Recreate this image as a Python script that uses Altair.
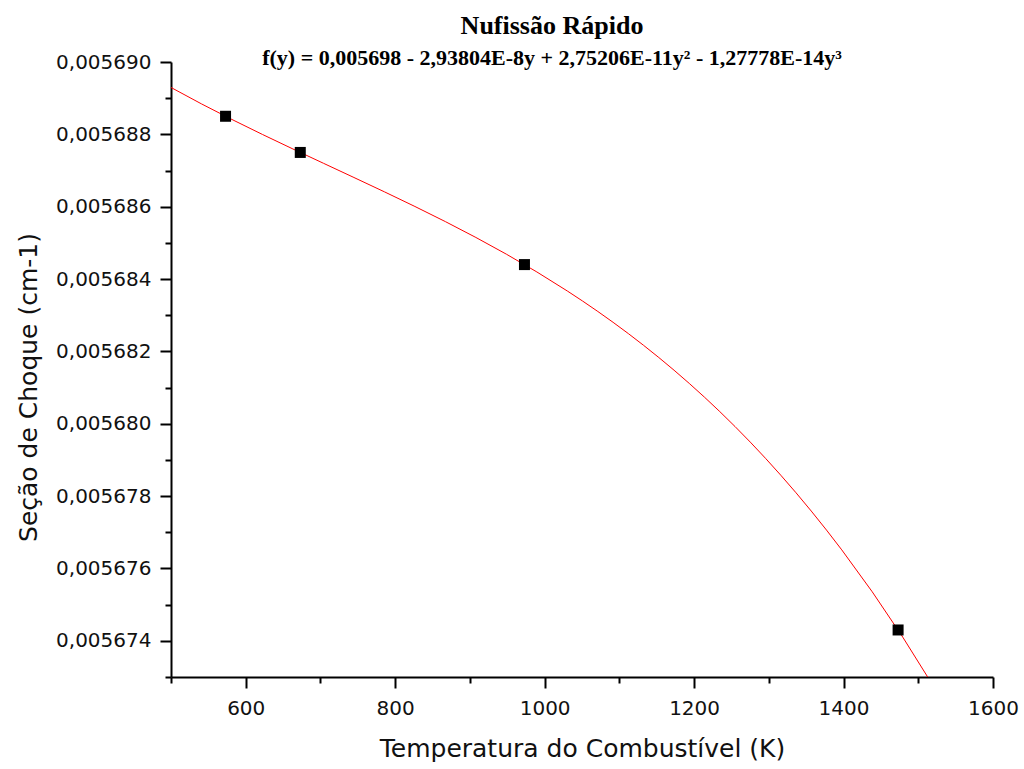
import altair as alt
import pandas as pd

# Data
temperatura = [573, 673, 973, 1473]
secao = [0.0056885, 0.0056875, 0.0056844, 0.0056743]

x_ticks = [500, 600, 700, 800, 900, 1000, 1100, 1200, 1300, 1400, 1500, 1600]
y_ticks = [0.005673, 0.005674, 0.005675, 0.005676, 0.005677, 0.005678,
           0.005679, 0.005680, 0.005681, 0.005682, 0.005683, 0.005684,
           0.005685, 0.005686, 0.005687, 0.005688, 0.005689, 0.005690]

titulo = "Nufissão Rápido"
formula = "f(y) = 0,005698 - 2,93804E-8y + 2,75206E-11y² - 1,27778E-14y³"

df = pd.DataFrame({"T": temperatura, "S": secao})

x_enc = alt.X(
    "T:Q",
    scale=alt.Scale(domain=[500, 1600], nice=False, zero=False),
    axis=alt.Axis(
        title="Temperatura do Combustível (K)",
        values=x_ticks,
        labelExpr="datum.value % 200 === 0 ? datum.value : ''",
        tickSize={"condition": {"test": "datum.value % 200 === 0", "value": 11}, "value": 6},
        labelPadding=10,
        titlePadding=18,
    ),
)
y_enc = alt.Y(
    "S:Q",
    scale=alt.Scale(domain=[0.005673, 0.005690], nice=False, zero=False),
    axis=alt.Axis(
        title="Seção de Choque (cm-1)",
        values=y_ticks,
        labelExpr="round(datum.value*1e6) % 2 === 0 ? replace(format(datum.value, '.6f'), '.', ',') : ''",
        tickSize={"condition": {"test": "round(datum.value*1e6) % 2 === 0", "value": 11}, "value": 6},
        labelPadding=9,
        titlePadding=14,
        titleY=325,
    ),
)

base = alt.Chart(df)

curve = base.transform_regression(
    "T", "S", method="poly", order=3, extent=[500, 1520]
).mark_line(color="#ff0000", strokeWidth=1, clip=True).encode(x=x_enc, y=y_enc)

points = base.mark_square(size=121, color="black", opacity=1).encode(x=x_enc, y=y_enc)

chart = (
    alt.layer(curve, points)
    .properties(
        width=822,
        height=615,
        autosize=alt.AutoSizeParams(type="none"),
        padding={"left": 171, "top": 62, "right": 31, "bottom": 92},
        background="white",
        title=alt.TitleParams(
            text=titulo,
            subtitle=formula,
            font="Liberation Serif",
            fontSize=26,
            fontWeight="bold",
            color="black",
            subtitleFont="Liberation Serif",
            subtitleFontSize=22,
            subtitleFontWeight="bold",
            subtitleColor="black",
            subtitlePadding=9,
            anchor="middle",
            dx=-30,
            offset=-17,
        ),
    )
    .configure_view(stroke=None)
    .configure_axis(
        grid=False,
        domainColor="black",
        domainWidth=2,
        tickColor="black",
        tickWidth=2,
        labelFont="DejaVu Sans",
        labelFontSize=20,
        labelColor="#111111",
        labelFlush=False,
        labelOverlap=False,
        titleFont="DejaVu Sans",
        titleFontSize=25,
        titleFontWeight="normal",
        titleColor="#111111",
    )
)

chart.save("out.html", embed_options={"renderer": "svg", "actions": False})
